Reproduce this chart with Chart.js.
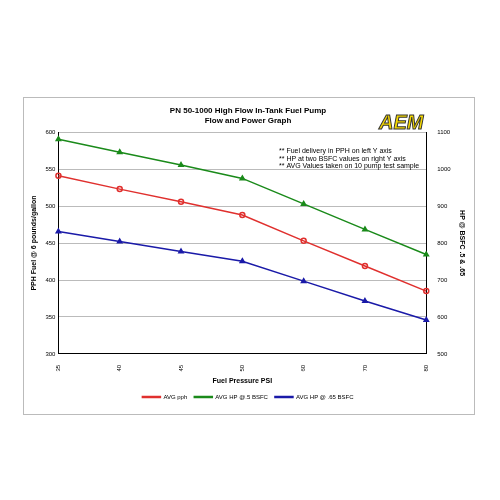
<!DOCTYPE html>
<html><head><script src="https://cdn.jsdelivr.net/npm/chart.js"></script>
<style>body{margin:0;background:#fff}#box{position:absolute;left:23px;top:97px;width:452px;height:318px;border:1px solid #bbb;box-sizing:border-box}canvas{position:absolute;left:0;top:0}</style></head>
<body><div id="box"><canvas id="c" width="450" height="316"></canvas></div>
<script>
const categories=["35","40","45","50","60","70","80"];
const avgPph=[541,523,506,488,453,419,385];
const hp50=[1081,1046,1011,975,906,837,769];
const hp65=[831,804,777,751,697,643,592];
const notes=["** Fuel delivery in PPH on left Y axis","** HP at two BSFC values on right Y axis","** AVG Values taken on 10 pump test sample"];
const deco={id:'deco',afterDraw(c){const x=c.ctx;x.save();x.fillStyle='#000';x.font='7px Arial';notes.forEach((t,i)=>x.fillText(t,255,53+i*7.7));
x.font='italic bold 20px Arial';x.fillStyle='#f5d800';x.strokeStyle='#333';x.lineWidth=1;x.fillText('AEM',355,25);x.strokeText('AEM',355,25);x.restore();}};
const ds=(l,d,col,ax,ps)=>({label:l,data:d,borderColor:col,backgroundColor:ps==='circle'?'rgba(0,0,0,0)':col,pointStyle:ps,pointRadius:2.5,borderWidth:1.5,yAxisID:ax,tension:0});
new Chart(document.getElementById('c'),{type:'line',data:{labels:categories,datasets:[
ds('AVG pph',avgPph,'#e0302e','y','circle'),ds('AVG HP @.5 BSFC',hp50,'#1a8a1a','y1','triangle'),ds('AVG HP @ .65 BSFC',hp65,'#1a1aa8','y1','triangle')]},
options:{responsive:false,animation:false,layout:{padding:{left:2,right:4,top:0,bottom:4}},
plugins:{title:{display:true,text:['PN 50-1000 High Flow In-Tank Fuel Pump','Flow and Power Graph'],font:{size:8,weight:'bold',family:'Arial'},color:'#000',padding:{top:8,bottom:7}},
legend:{position:'bottom',labels:{boxWidth:18,boxHeight:1,font:{size:6,family:'Arial'},color:'#000',padding:7}}},
scales:{x:{offset:false,grid:{display:false},border:{color:'#000'},ticks:{maxRotation:90,minRotation:90,font:{size:6,family:'Arial'},color:'#000'},title:{display:true,text:'Fuel Pressure PSI',font:{size:7,weight:'bold',family:'Arial'},color:'#000',padding:2}},
y:{min:300,max:600,ticks:{stepSize:50,font:{size:6,family:'Arial'},color:'#000'},grid:{color:'#bbb',drawTicks:false},border:{color:'#000'},title:{display:true,text:'PPH Fuel @ 6 pounds/gallon',font:{size:7,weight:'bold',family:'Arial'},color:'#000'}},
y1:{position:'right',min:500,max:1100,ticks:{stepSize:100,callback:v=>String(v),font:{size:6,family:'Arial'},color:'#000'},grid:{display:false},border:{color:'#000'},title:{display:true,text:'HP @ BSFC .5 & .65',font:{size:7,weight:'bold',family:'Arial'},color:'#000'}}}},plugins:[deco]});
</script></body></html>
